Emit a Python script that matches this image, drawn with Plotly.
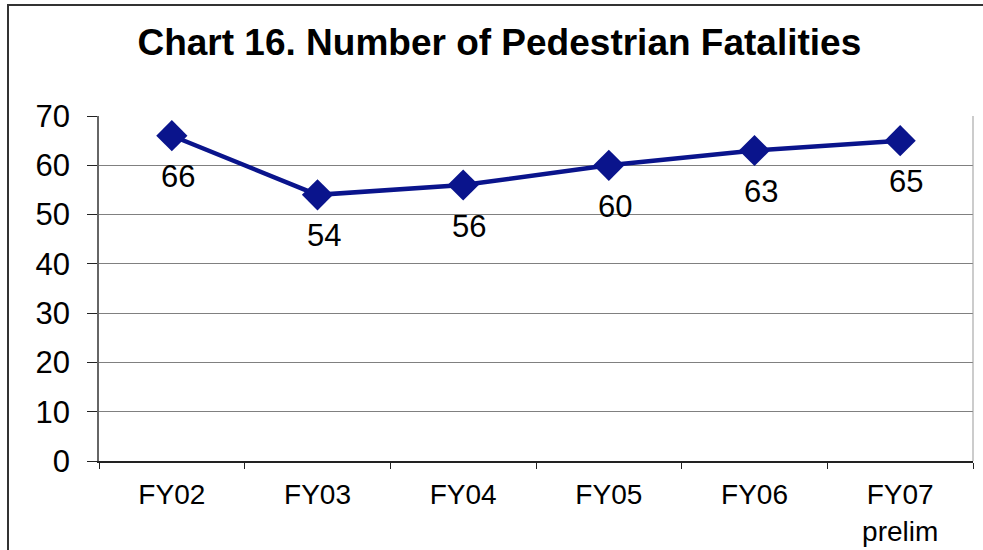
import plotly.graph_objects as go

categories = ["FY02", "FY03", "FY04", "FY05", "FY06", "FY07<br>prelim"]
fatalities = [66, 54, 56, 60, 63, 65]
y_ticks = [0, 10, 20, 30, 40, 50, 60, 70]

navy = "#0a148c"
font = "Liberation Sans, Arial, sans-serif"

fig = go.Figure()
fig.add_trace(go.Scatter(
    x=categories, y=fatalities, mode="lines+markers",
    line=dict(color=navy, width=4.5),
    marker=dict(symbol="diamond", size=24, color=navy),
    hoverinfo="skip", showlegend=False, cliponaxis=False,
))

for c, v in zip(categories, fatalities):
    fig.add_annotation(x=c, y=v, text=str(v), showarrow=False,
                       yshift=-41, xshift=6,
                       font=dict(family=font, size=31, color="black"))

fig.add_shape(type="rect", xref="paper", yref="paper",
              x0=-91/874, x1=1.5, y0=-0.5, y1=(461-5)/345,
              line=dict(color="#333333", width=2), layer="below")

fig.update_layout(
    width=983, height=550,
    margin=dict(l=99, r=10, t=116, b=89, autoexpand=False),
    paper_bgcolor="white", plot_bgcolor="white",
    title=dict(text="<b>Chart 16. Number of Pedestrian Fatalities</b>",
               x=0.508, xanchor="center", y=1 - 42/550, yanchor="middle",
               font=dict(family=font, size=37, color="black")),
    xaxis=dict(type="category", range=[-0.5, 5.5], automargin=False,
               showline=True, linecolor="#222222", linewidth=1.5,
               mirror=False, ticks="outside", tickson="boundaries",
               ticklen=6, tickcolor="#222222", showgrid=False,
               tickfont=dict(family=font, size=28, color="black"),
               ticklabelstandoff=8),
    yaxis=dict(range=[0, 70], tickvals=y_ticks, showline=True, automargin=False,
               linecolor="#666666", linewidth=1.5,
               ticks="outside", ticklen=10, tickcolor="#222222",
               showgrid=True, gridcolor="#808080", gridwidth=1,
               zeroline=False,
               tickfont=dict(family=font, size=31, color="black"),
               ticklabelstandoff=11),
)
# right plot border
fig.add_shape(type="line", xref="paper", yref="paper", x0=1, x1=1, y0=0, y1=1,
              line=dict(color="#999999", width=1))

fig.write_html("out.html", config={"displayModeBar": False},
               post_script="document.body.style.margin='0';")
